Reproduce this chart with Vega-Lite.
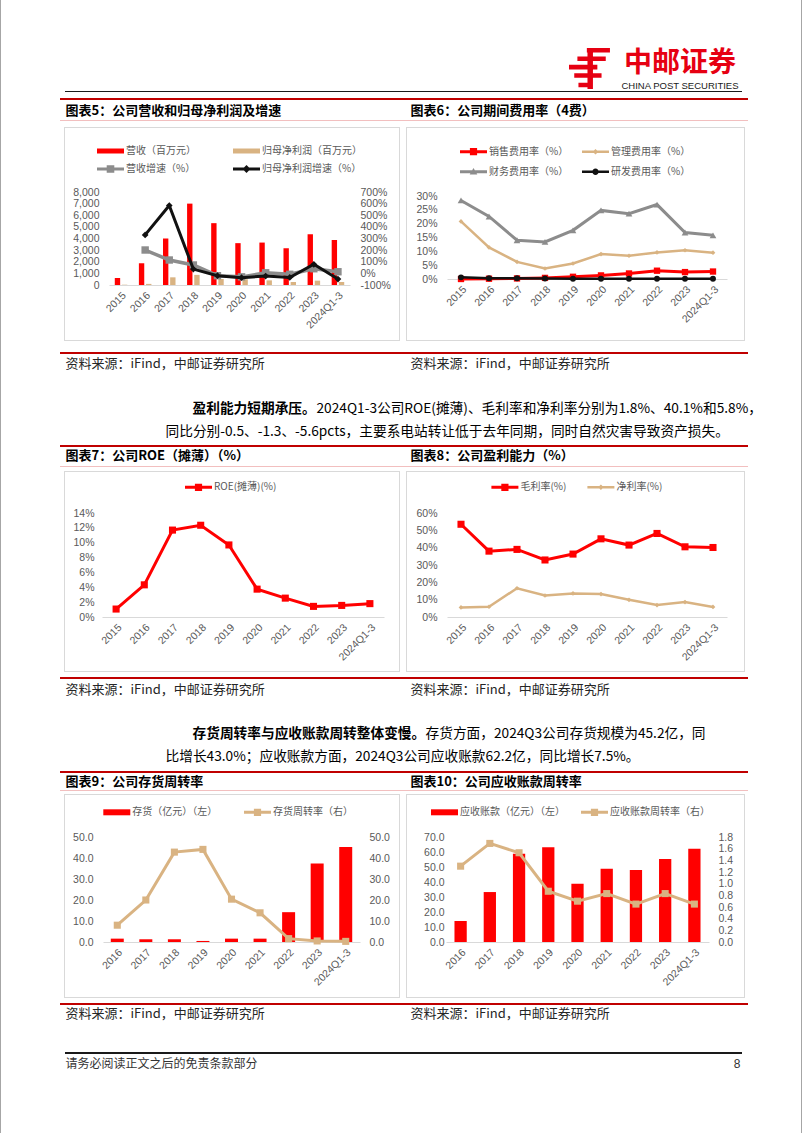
{
"$schema": "https://vega.github.io/schema/vega-lite/v6.json",
"padding": 0,
"background": "#FFFFFF",
"spacing": 0,
"bounds": "flush",
"resolve": {"scale": {"color": "independent"}, "legend": {"color": "independent"}},
"config": {
  "view": {"stroke": null},
  "axis": {"labelFont": "Liberation Sans", "labelFontSize": 10.5, "labelColor": "#595959", "ticks": false, "tickSize": 0, "grid": false, "domain": false, "labelOverlap": false},
  "axisX": {"domain": true, "domainColor": "#D9D9D9", "domainWidth": 1, "labelAngle": -45, "labelPadding": 5},
  "legend": {"orient": "none", "direction": "horizontal", "padding": 0, "labelFont": "Noto Sans CJK SC", "labelFontSize": 10, "labelColor": "#595959", "symbolSize": 400, "symbolStrokeWidth": 0, "labelOffset": 5.5, "rowPadding": 0}
},
"datasets": {
  "empty": [],
  "c5": [
    {"c":"2015","s":"营收（百万元）","v":600},{"c":"2016","s":"营收（百万元）","v":1870},{"c":"2017","s":"营收（百万元）","v":4000},{"c":"2018","s":"营收（百万元）","v":7000},{"c":"2019","s":"营收（百万元）","v":5320},{"c":"2020","s":"营收（百万元）","v":3600},{"c":"2021","s":"营收（百万元）","v":3650},{"c":"2022","s":"营收（百万元）","v":3170},{"c":"2023","s":"营收（百万元）","v":4370},{"c":"2024Q1-3","s":"营收（百万元）","v":3880},
    {"c":"2015","s":"归母净利润（百万元）","v":25},{"c":"2016","s":"归母净利润（百万元）","v":96},{"c":"2017","s":"归母净利润（百万元）","v":660},{"c":"2018","s":"归母净利润（百万元）","v":870},{"c":"2019","s":"归母净利润（百万元）","v":520},{"c":"2020","s":"归母净利润（百万元）","v":490},{"c":"2021","s":"归母净利润（百万元）","v":400},{"c":"2022","s":"归母净利润（百万元）","v":260},{"c":"2023","s":"归母净利润（百万元）","v":375},{"c":"2024Q1-3","s":"归母净利润（百万元）","v":250},
    {"c":"2016","s":"营收增速（%）","v":201},{"c":"2017","s":"营收增速（%）","v":115},{"c":"2018","s":"营收增速（%）","v":72},{"c":"2019","s":"营收增速（%）","v":-20},{"c":"2020","s":"营收增速（%）","v":-30},{"c":"2021","s":"营收增速（%）","v":5},{"c":"2022","s":"营收增速（%）","v":-8},{"c":"2023","s":"营收增速（%）","v":40},{"c":"2024Q1-3","s":"营收增速（%）","v":14},
    {"c":"2016","s":"归母净利润增速（%）","v":331},{"c":"2017","s":"归母净利润增速（%）","v":584},{"c":"2018","s":"归母净利润增速（%）","v":37},{"c":"2019","s":"归母净利润增速（%）","v":-20},{"c":"2020","s":"归母净利润增速（%）","v":-37},{"c":"2021","s":"归母净利润增速（%）","v":-23},{"c":"2022","s":"归母净利润增速（%）","v":-35},{"c":"2023","s":"归母净利润增速（%）","v":78},{"c":"2024Q1-3","s":"归母净利润增速（%）","v":-49}
  ],
  "c6": [
    {"c":"2015","s":"财务费用率（%）","v":28.4},{"c":"2016","s":"财务费用率（%）","v":22.6},{"c":"2017","s":"财务费用率（%）","v":14.0},{"c":"2018","s":"财务费用率（%）","v":13.4},{"c":"2019","s":"财务费用率（%）","v":17.6},{"c":"2020","s":"财务费用率（%）","v":24.8},{"c":"2021","s":"财务费用率（%）","v":23.6},{"c":"2022","s":"财务费用率（%）","v":26.9},{"c":"2023","s":"财务费用率（%）","v":16.8},{"c":"2024Q1-3","s":"财务费用率（%）","v":15.8},
    {"c":"2015","s":"管理费用率（%）","v":20.8},{"c":"2016","s":"管理费用率（%）","v":11.4},{"c":"2017","s":"管理费用率（%）","v":6.2},{"c":"2018","s":"管理费用率（%）","v":3.8},{"c":"2019","s":"管理费用率（%）","v":5.6},{"c":"2020","s":"管理费用率（%）","v":9.0},{"c":"2021","s":"管理费用率（%）","v":8.4},{"c":"2022","s":"管理费用率（%）","v":9.6},{"c":"2023","s":"管理费用率（%）","v":10.4},{"c":"2024Q1-3","s":"管理费用率（%）","v":9.5},
    {"c":"2015","s":"销售费用率（%）","v":0.0},{"c":"2016","s":"销售费用率（%）","v":0.1},{"c":"2017","s":"销售费用率（%）","v":0.2},{"c":"2018","s":"销售费用率（%）","v":0.4},{"c":"2019","s":"销售费用率（%）","v":0.8},{"c":"2020","s":"销售费用率（%）","v":1.3},{"c":"2021","s":"销售费用率（%）","v":2.0},{"c":"2022","s":"销售费用率（%）","v":3.0},{"c":"2023","s":"销售费用率（%）","v":2.5},{"c":"2024Q1-3","s":"销售费用率（%）","v":2.7},
    {"c":"2015","s":"研发费用率（%）","v":0.6},{"c":"2016","s":"研发费用率（%）","v":0.3},{"c":"2017","s":"研发费用率（%）","v":0.3},{"c":"2018","s":"研发费用率（%）","v":0.2},{"c":"2019","s":"研发费用率（%）","v":0.1},{"c":"2020","s":"研发费用率（%）","v":0.1},{"c":"2021","s":"研发费用率（%）","v":0.1},{"c":"2022","s":"研发费用率（%）","v":0.1},{"c":"2023","s":"研发费用率（%）","v":0.1},{"c":"2024Q1-3","s":"研发费用率（%）","v":0.1}
  ],
  "c7": [
    {"c":"2015","s":"ROE(摊薄)(%)","v":1.07},{"c":"2016","s":"ROE(摊薄)(%)","v":4.33},{"c":"2017","s":"ROE(摊薄)(%)","v":11.7},{"c":"2018","s":"ROE(摊薄)(%)","v":12.35},{"c":"2019","s":"ROE(摊薄)(%)","v":9.7},{"c":"2020","s":"ROE(摊薄)(%)","v":3.75},{"c":"2021","s":"ROE(摊薄)(%)","v":2.54},{"c":"2022","s":"ROE(摊薄)(%)","v":1.43},{"c":"2023","s":"ROE(摊薄)(%)","v":1.56},{"c":"2024Q1-3","s":"ROE(摊薄)(%)","v":1.8}
  ],
  "c8": [
    {"c":"2015","s":"毛利率(%)","v":53.5},{"c":"2016","s":"毛利率(%)","v":38.0},{"c":"2017","s":"毛利率(%)","v":39.0},{"c":"2018","s":"毛利率(%)","v":32.9},{"c":"2019","s":"毛利率(%)","v":36.3},{"c":"2020","s":"毛利率(%)","v":45.1},{"c":"2021","s":"毛利率(%)","v":41.5},{"c":"2022","s":"毛利率(%)","v":48.2},{"c":"2023","s":"毛利率(%)","v":40.5},{"c":"2024Q1-3","s":"毛利率(%)","v":40.1},
    {"c":"2015","s":"净利率(%)","v":5.5},{"c":"2016","s":"净利率(%)","v":5.9},{"c":"2017","s":"净利率(%)","v":16.6},{"c":"2018","s":"净利率(%)","v":12.4},{"c":"2019","s":"净利率(%)","v":13.6},{"c":"2020","s":"净利率(%)","v":13.2},{"c":"2021","s":"净利率(%)","v":9.9},{"c":"2022","s":"净利率(%)","v":6.9},{"c":"2023","s":"净利率(%)","v":8.6},{"c":"2024Q1-3","s":"净利率(%)","v":5.8}
  ],
  "c9": [
    {"c":"2016","s":"存货（亿元）（左）","v":1.6},{"c":"2017","s":"存货（亿元）（左）","v":1.3},{"c":"2018","s":"存货（亿元）（左）","v":1.3},{"c":"2019","s":"存货（亿元）（左）","v":0.5},{"c":"2020","s":"存货（亿元）（左）","v":1.6},{"c":"2021","s":"存货（亿元）（左）","v":1.6},{"c":"2022","s":"存货（亿元）（左）","v":14.2},{"c":"2023","s":"存货（亿元）（左）","v":37.4},{"c":"2024Q1-3","s":"存货（亿元）（左）","v":45.2},
    {"c":"2016","s":"存货周转率（右）","v":8.0},{"c":"2017","s":"存货周转率（右）","v":20.0},{"c":"2018","s":"存货周转率（右）","v":42.8},{"c":"2019","s":"存货周转率（右）","v":44.1},{"c":"2020","s":"存货周转率（右）","v":20.4},{"c":"2021","s":"存货周转率（右）","v":13.9},{"c":"2022","s":"存货周转率（右）","v":1.6},{"c":"2023","s":"存货周转率（右）","v":0.5},{"c":"2024Q1-3","s":"存货周转率（右）","v":0.3}
  ],
  "c10": [
    {"c":"2016","s":"应收账款（亿元）（左）","v":14.0},{"c":"2017","s":"应收账款（亿元）（左）","v":33.3},{"c":"2018","s":"应收账款（亿元）（左）","v":58.9},{"c":"2019","s":"应收账款（亿元）（左）","v":63.1},{"c":"2020","s":"应收账款（亿元）（左）","v":38.9},{"c":"2021","s":"应收账款（亿元）（左）","v":48.9},{"c":"2022","s":"应收账款（亿元）（左）","v":48.0},{"c":"2023","s":"应收账款（亿元）（左）","v":55.3},{"c":"2024Q1-3","s":"应收账款（亿元）（左）","v":62.2},
    {"c":"2016","s":"应收账款周转率（右）","v":1.30},{"c":"2017","s":"应收账款周转率（右）","v":1.69},{"c":"2018","s":"应收账款周转率（右）","v":1.53},{"c":"2019","s":"应收账款周转率（右）","v":0.87},{"c":"2020","s":"应收账款周转率（右）","v":0.70},{"c":"2021","s":"应收账款周转率（右）","v":0.83},{"c":"2022","s":"应收账款周转率（右）","v":0.65},{"c":"2023","s":"应收账款周转率（右）","v":0.83},{"c":"2024Q1-3","s":"应收账款周转率（右）","v":0.65}
  ]
},
"hconcat": [
  {"width": 1, "height": 1133, "data": {"name": "empty"}, "mark": "point", "view": {"fill": "#A6A6A6", "stroke": null}},
  {"width": 59, "height": 1, "data": {"name": "empty"}, "mark": "point"},
  {"spacing": 0, "bounds": "flush", "vconcat": [
    {"width": 1, "height": 98, "data": {"name": "empty"}, "mark": "point"},
    {"width": 688, "height": 2, "data": {"name": "empty"}, "mark": "point", "view": {"fill": "#C00000", "stroke": null}},
    {"width": 1, "height": 20, "data": {"name": "empty"}, "mark": "point"},
    {"width": 688, "height": 1, "data": {"name": "empty"}, "mark": "point", "view": {"fill": "#F2BFBF", "stroke": null}},
    {"width": 1, "height": 231, "data": {"name": "empty"}, "mark": "point"},
    {"width": 688, "height": 2, "data": {"name": "empty"}, "mark": "point", "view": {"fill": "#C00000", "stroke": null}},
    {"width": 1, "height": 91, "data": {"name": "empty"}, "mark": "point"},
    {"width": 688, "height": 2, "data": {"name": "empty"}, "mark": "point", "view": {"fill": "#C00000", "stroke": null}},
    {"width": 1, "height": 19, "data": {"name": "empty"}, "mark": "point"},
    {"width": 688, "height": 1, "data": {"name": "empty"}, "mark": "point", "view": {"fill": "#F2BFBF", "stroke": null}},
    {"width": 1, "height": 210, "data": {"name": "empty"}, "mark": "point"},
    {"width": 688, "height": 2, "data": {"name": "empty"}, "mark": "point", "view": {"fill": "#C00000", "stroke": null}},
    {"width": 1, "height": 92, "data": {"name": "empty"}, "mark": "point"},
    {"width": 688, "height": 2, "data": {"name": "empty"}, "mark": "point", "view": {"fill": "#C00000", "stroke": null}},
    {"width": 1, "height": 17, "data": {"name": "empty"}, "mark": "point"},
    {"width": 688, "height": 1, "data": {"name": "empty"}, "mark": "point", "view": {"fill": "#F2BFBF", "stroke": null}},
    {"width": 1, "height": 212, "data": {"name": "empty"}, "mark": "point"},
    {"width": 688, "height": 2, "data": {"name": "empty"}, "mark": "point", "view": {"fill": "#C00000", "stroke": null}}
  ]},
  {"width": 4, "height": 1, "data": {"name": "empty"}, "mark": "point"},
  {"spacing": 0, "bounds": "flush", "vconcat": [
    {"width": 1, "height": 127, "data": {"name": "empty"}, "mark": "point"},
    {"width": 336, "height": 1, "data": {"name": "empty"}, "mark": "point", "view": {"fill": "#D9D9D9", "stroke": null}},
    {"width": 1, "height": 212, "data": {"name": "empty"}, "mark": "point", "view": {"fill": "#D9D9D9", "stroke": null}},
    {"width": 336, "height": 1, "data": {"name": "empty"}, "mark": "point", "view": {"fill": "#D9D9D9", "stroke": null}},
    {"width": 1, "height": 130, "data": {"name": "empty"}, "mark": "point"},
    {"width": 336, "height": 1, "data": {"name": "empty"}, "mark": "point", "view": {"fill": "#D9D9D9", "stroke": null}},
    {"width": 1, "height": 199, "data": {"name": "empty"}, "mark": "point", "view": {"fill": "#D9D9D9", "stroke": null}},
    {"width": 336, "height": 1, "data": {"name": "empty"}, "mark": "point", "view": {"fill": "#D9D9D9", "stroke": null}},
    {"width": 1, "height": 122, "data": {"name": "empty"}, "mark": "point"},
    {"width": 336, "height": 1, "data": {"name": "empty"}, "mark": "point", "view": {"fill": "#D9D9D9", "stroke": null}},
    {"width": 1, "height": 202, "data": {"name": "empty"}, "mark": "point", "view": {"fill": "#D9D9D9", "stroke": null}},
    {"width": 336, "height": 1, "data": {"name": "empty"}, "mark": "point", "view": {"fill": "#D9D9D9", "stroke": null}}
  ]},
  {"width": 1, "height": 1, "data": {"name": "empty"}, "mark": "point"},
  {"spacing": 0, "bounds": "flush", "vconcat": [
    {"width": 1, "height": 91, "data": {"name": "empty"}, "mark": "point"},
    {"width": 677, "height": 1, "data": {"name": "empty"}, "mark": "point", "view": {"fill": "#1A1A1A", "stroke": null}},
    {"width": 1, "height": 18, "data": {"name": "empty"}, "mark": "point"},
    {"width": 1, "height": 2, "data": {"values": [{"t": "图表5：公司营收和归母净利润及增速"}]}, "mark": {"type": "text", "align": "left", "baseline": "middle", "font": "Noto Sans CJK SC", "fontSize": 13, "fontWeight": "bold", "color": "#000000"}, "encoding": {"text": {"field": "t", "type": "nominal"}}},
    {"width": 1, "height": 251, "data": {"name": "empty"}, "mark": "point"},
    {"width": 1, "height": 2, "data": {"values": [{"t": "资料来源：iFind，中邮证券研究所"}]}, "mark": {"type": "text", "align": "left", "baseline": "middle", "font": "Noto Sans CJK SC", "fontSize": 13, "color": "#262626"}, "encoding": {"text": {"field": "t", "type": "nominal"}}},
    {"width": 1, "height": 90, "data": {"name": "empty"}, "mark": "point"},
    {"width": 1, "height": 2, "data": {"values": [{"t": "图表7：公司ROE（摊薄）（%）"}]}, "mark": {"type": "text", "align": "left", "baseline": "middle", "font": "Noto Sans CJK SC", "fontSize": 13, "fontWeight": "bold", "color": "#000000"}, "encoding": {"text": {"field": "t", "type": "nominal"}}},
    {"width": 1, "height": 232, "data": {"name": "empty"}, "mark": "point"},
    {"width": 1, "height": 2, "data": {"values": [{"t": "资料来源：iFind，中邮证券研究所"}]}, "mark": {"type": "text", "align": "left", "baseline": "middle", "font": "Noto Sans CJK SC", "fontSize": 13, "color": "#262626"}, "encoding": {"text": {"field": "t", "type": "nominal"}}},
    {"width": 1, "height": 90, "data": {"name": "empty"}, "mark": "point"},
    {"width": 1, "height": 2, "data": {"values": [{"t": "图表9：公司存货周转率"}]}, "mark": {"type": "text", "align": "left", "baseline": "middle", "font": "Noto Sans CJK SC", "fontSize": 13, "fontWeight": "bold", "color": "#000000"}, "encoding": {"text": {"field": "t", "type": "nominal"}}},
    {"width": 1, "height": 230, "data": {"name": "empty"}, "mark": "point"},
    {"width": 1, "height": 2, "data": {"values": [{"t": "资料来源：iFind，中邮证券研究所"}]}, "mark": {"type": "text", "align": "left", "baseline": "middle", "font": "Noto Sans CJK SC", "fontSize": 13, "color": "#262626"}, "encoding": {"text": {"field": "t", "type": "nominal"}}},
    {"width": 1, "height": 37, "data": {"name": "empty"}, "mark": "point"},
    {"width": 677, "height": 2, "data": {"name": "empty"}, "mark": "point", "view": {"fill": "#1A1A1A", "stroke": null}},
    {"width": 1, "height": 9, "data": {"name": "empty"}, "mark": "point"},
    {"width": 1, "height": 2, "data": {"values": [{"t": "请务必阅读正文之后的免责条款部分"}]}, "mark": {"type": "text", "align": "left", "baseline": "middle", "font": "Noto Sans CJK SC", "fontSize": 12, "color": "#333333"}, "encoding": {"text": {"field": "t", "type": "nominal"}}}
  ]},
  {"width": 37, "height": 1, "data": {"name": "empty"}, "mark": "point"},
  {"spacing": 0, "bounds": "flush", "resolve": {"scale": {"color": "independent"}, "legend": {"color": "independent"}}, "vconcat": [
    {"width": 1, "height": 513, "data": {"name": "empty"}, "mark": "point"},
    {
      "width": 282, "height": 104,
      "data": {"name": "c7"},
      "mark": {"type": "line", "strokeWidth": 3, "point": {"shape": "square", "size": 50, "filled": true}},
      "encoding": {
        "x": {"field": "c", "type": "ordinal", "sort": null, "title": null},
        "y": {"field": "v", "type": "quantitative", "title": null, "scale": {"domain": [0, 14], "nice": false}, "axis": {"values": [0,2,4,6,8,10,12,14], "labelExpr": "datum.value + '%'", "labelPadding": 8}},
        "color": {"field": "s", "type": "nominal", "scale": {"domain": ["ROE(摊薄)(%)"], "range": ["#FF0000"]},
          "legend": {"title": null, "orient": "none", "legendX": 86.5, "legendY": -35.7,
            "encode": {"symbols": {"update": {
              "shape": {"value": "M-1.35,-0.15H1.35V0.15H-1.35ZM-0.36,-0.36H0.36V0.36H-0.36Z"},
              "fill": {"value": "#FF0000"},
              "strokeWidth": {"value": 0},
              "opacity": {"value": 1}
            }}}
          }
        }
      }
    }
  ]},
  {"width": 1, "height": 1, "data": {"name": "empty"}, "mark": "point"},
  {"spacing": 0, "bounds": "flush", "resolve": {"scale": {"color": "independent"}, "legend": {"color": "independent"}}, "vconcat": [
    {"width": 1, "height": 837, "data": {"name": "empty"}, "mark": "point"},
    {
      "width": 257, "height": 105,
      "data": {"name": "c9"},
      "encoding": {
        "x": {"field": "c", "type": "ordinal", "sort": null, "title": null, "scale": {"paddingInner": 0.545, "paddingOuter": 0.2725}},
        "color": {"field": "s", "type": "nominal", "scale": {"domain": ["存货（亿元）（左）","存货周转率（右）"], "range": ["#FF0000","#D9B382"]},
          "legend": {"title": null, "orient": "none", "legendX": 3.8, "legendY": -34.7, "columns": 2, "columnPadding": 25.7,
            "encode": {"symbols": {"update": {
              "shape": [{"test": "datum.value === '存货（亿元）（左）'", "value": "M-1.35,-0.3H1.35V0.3H-1.35Z"}, {"value": "M-1.35,-0.15H1.35V0.15H-1.35ZM-0.36,-0.36H0.36V0.36H-0.36Z"}],
              "fill": [{"test": "datum.value === '存货（亿元）（左）'", "value": "#FF0000"}, {"value": "#D9B382"}],
              "strokeWidth": {"value": 0},
              "opacity": {"value": 1}
            }}}
          }
        }
      },
      "layer": [
        {"transform": [{"filter": "datum.s === '存货（亿元）（左）'"}], "mark": {"type": "bar"},
         "encoding": {"y": {"field": "v", "type": "quantitative", "title": null, "scale": {"domain": [0, 50], "nice": false}, "axis": {"orient": "left", "values": [0,10,20,30,40,50], "format": ".1f", "labelPadding": 10}}}},
        {"transform": [{"filter": "datum.s === '存货周转率（右）'"}], "mark": {"type": "line", "strokeWidth": 3, "point": {"shape": "square", "size": 50, "filled": true}},
         "encoding": {"y": {"field": "v", "type": "quantitative", "title": null, "scale": {"domain": [0, 50], "nice": false}, "axis": {"orient": "right", "values": [0,10,20,30,40,50], "format": ".1f", "labelPadding": 9}}}}
      ],
      "resolve": {"scale": {"y": "independent"}}
    }
  ]},
  {"width": 6, "height": 1, "data": {"name": "empty"}, "mark": "point"},
  {"spacing": 0, "bounds": "flush", "resolve": {"scale": {"color": "independent"}, "legend": {"color": "independent"}}, "vconcat": [
    {"width": 1, "height": 192, "data": {"name": "empty"}, "mark": "point"},
    {
      "width": 241, "height": 93,
      "data": {"name": "c5"},
      "encoding": {
        "x": {"field": "c", "type": "ordinal", "sort": null, "title": null, "scale": {"paddingInner": 0.48, "paddingOuter": 0.24}},
        "color": {"field": "s", "type": "nominal",
          "scale": {"domain": ["营收（百万元）","归母净利润（百万元）","营收增速（%）","归母净利润增速（%）"], "range": ["#FF0000","#D9B382","#8C8C8C","#111111"]},
          "legend": {"title": null, "orient": "none", "legendX": -8.5, "legendY": -51, "columns": 2, "columnPadding": 36, "rowPadding": 3,
            "encode": {"symbols": {"update": {
              "shape": [
                {"test": "datum.value === '营收（百万元）' || datum.value === '归母净利润（百万元）'", "value": "M-1.35,-0.25H1.35V0.25H-1.35Z"},
                {"test": "datum.value === '营收增速（%）'", "value": "M-1.35,-0.16H1.35V0.16H-1.35ZM-0.38,-0.38H0.38V0.38H-0.38Z"},
                {"value": "M-1.35,-0.14H1.35V0.14H-1.35ZM0,-0.4L0.4,0L0,0.4L-0.4,0Z"}
              ],
              "fill": [
                {"test": "datum.value === '营收（百万元）'", "value": "#FF0000"},
                {"test": "datum.value === '归母净利润（百万元）'", "value": "#D9B382"},
                {"test": "datum.value === '营收增速（%）'", "value": "#8C8C8C"},
                {"value": "#111111"}
              ],
              "strokeWidth": {"value": 0},
              "opacity": {"value": 1}
            }}}
          }
        }
      },
      "layer": [
        {"transform": [{"filter": "datum.s === '营收（百万元）' || datum.s === '归母净利润（百万元）'"}],
         "mark": {"type": "bar"},
         "encoding": {
           "xOffset": {"field": "s", "type": "nominal", "sort": ["营收（百万元）","归母净利润（百万元）"], "scale": {"paddingInner": 0.25, "paddingOuter": 0}},
           "y": {"field": "v", "type": "quantitative", "title": null, "scale": {"domain": [0, 8000], "nice": false}, "axis": {"orient": "left", "values": [0,1000,2000,3000,4000,5000,6000,7000,8000], "format": ",.0f", "labelPadding": 10}}
         }},
        {"encoding": {
           "y": {"field": "v", "type": "quantitative", "title": null, "scale": {"domain": [-100, 700], "nice": false, "zero": false}, "axis": {"orient": "right", "values": [-100,0,100,200,300,400,500,600,700], "labelExpr": "datum.value + '%'", "labelPadding": 10}}
         },
         "layer": [
           {"transform": [{"filter": "datum.s === '营收增速（%）'"}], "mark": {"type": "line", "strokeWidth": 3.5, "point": {"shape": "square", "size": 55, "filled": true}}},
           {"transform": [{"filter": "datum.s === '归母净利润增速（%）'"}], "mark": {"type": "line", "strokeWidth": 3, "point": {"shape": "diamond", "size": 45, "filled": true}}}
         ]}
      ],
      "resolve": {"scale": {"y": "independent"}}
    }
  ]},
  {"width": 56, "height": 1, "data": {"name": "empty"}, "mark": "point"},
  {"spacing": 0, "bounds": "flush", "vconcat": [
    {"width": 1, "height": 431, "data": {"name": "empty"}, "mark": "point"},
    {"width": 1, "height": 2, "data": {"values": [{"t": "同比分别-0.5、-1.3、-5.6pcts，主要系电站转让低于去年同期，同时自然灾害导致资产损失。"}]}, "mark": {"type": "text", "align": "left", "baseline": "middle", "font": "Noto Sans CJK SC", "fontSize": 13.7, "color": "#000000"}, "encoding": {"text": {"field": "t", "type": "nominal"}}},
    {"width": 1, "height": 323, "data": {"name": "empty"}, "mark": "point"},
    {"width": 1, "height": 2, "data": {"values": [{"t": "比增长43.0%；应收账款方面，2024Q3公司应收账款62.2亿，同比增长7.5%。"}]}, "mark": {"type": "text", "align": "left", "baseline": "middle", "font": "Noto Sans CJK SC", "fontSize": 13.7, "color": "#000000"}, "encoding": {"text": {"field": "t", "type": "nominal"}}}
  ]},
  {"width": 27, "height": 1, "data": {"name": "empty"}, "mark": "point"},
  {"spacing": 0, "bounds": "flush", "vconcat": [
    {"width": 1, "height": 408, "data": {"name": "empty"}, "mark": "point"},
    {"width": 1, "height": 2, "data": {"values": [{"t": "盈利能力短期承压。"}]}, "mark": {"type": "text", "align": "left", "baseline": "middle", "font": "Noto Sans CJK SC", "fontSize": 13.7, "fontWeight": "bold", "color": "#000000"}, "encoding": {"text": {"field": "t", "type": "nominal"}}},
    {"width": 1, "height": 323, "data": {"name": "empty"}, "mark": "point"},
    {"width": 1, "height": 2, "data": {"values": [{"t": "存货周转率与应收账款周转整体变慢。"}]}, "mark": {"type": "text", "align": "left", "baseline": "middle", "font": "Noto Sans CJK SC", "fontSize": 13.7, "fontWeight": "bold", "color": "#000000"}, "encoding": {"text": {"field": "t", "type": "nominal"}}}
  ]},
  {"width": 124, "height": 1, "data": {"name": "empty"}, "mark": "point"},
  {"spacing": 0, "bounds": "flush", "vconcat": [
    {"width": 1, "height": 408, "data": {"name": "empty"}, "mark": "point"},
    {"width": 1, "height": 2, "data": {"values": [{"t": "2024Q1-3公司ROE(摊薄)、毛利率和净利率分别为1.8%、40.1%和5.8%，"}]}, "mark": {"type": "text", "align": "left", "baseline": "middle", "font": "Noto Sans CJK SC", "fontSize": 13.7, "color": "#000000"}, "encoding": {"text": {"field": "t", "type": "nominal"}}}
  ]},
  {"width": 83, "height": 1, "data": {"name": "empty"}, "mark": "point"},
  {"spacing": 0, "bounds": "flush", "vconcat": [
    {"width": 1, "height": 128, "data": {"name": "empty"}, "mark": "point"},
    {"width": 1, "height": 212, "data": {"name": "empty"}, "mark": "point", "view": {"fill": "#D9D9D9", "stroke": null}},
    {"width": 1, "height": 132, "data": {"name": "empty"}, "mark": "point"},
    {"width": 1, "height": 199, "data": {"name": "empty"}, "mark": "point", "view": {"fill": "#D9D9D9", "stroke": null}},
    {"width": 1, "height": 124, "data": {"name": "empty"}, "mark": "point"},
    {"width": 1, "height": 202, "data": {"name": "empty"}, "mark": "point", "view": {"fill": "#D9D9D9", "stroke": null}}
  ]},
  {"width": 7, "height": 1, "data": {"name": "empty"}, "mark": "point"},
  {"spacing": 0, "bounds": "flush", "vconcat": [
    {"width": 1, "height": 127, "data": {"name": "empty"}, "mark": "point"},
    {"width": 339, "height": 1, "data": {"name": "empty"}, "mark": "point", "view": {"fill": "#D9D9D9", "stroke": null}},
    {"width": 1, "height": 212, "data": {"name": "empty"}, "mark": "point", "view": {"fill": "#D9D9D9", "stroke": null}},
    {"width": 339, "height": 1, "data": {"name": "empty"}, "mark": "point", "view": {"fill": "#D9D9D9", "stroke": null}},
    {"width": 1, "height": 130, "data": {"name": "empty"}, "mark": "point"},
    {"width": 339, "height": 1, "data": {"name": "empty"}, "mark": "point", "view": {"fill": "#D9D9D9", "stroke": null}},
    {"width": 1, "height": 199, "data": {"name": "empty"}, "mark": "point", "view": {"fill": "#D9D9D9", "stroke": null}},
    {"width": 339, "height": 1, "data": {"name": "empty"}, "mark": "point", "view": {"fill": "#D9D9D9", "stroke": null}},
    {"width": 1, "height": 122, "data": {"name": "empty"}, "mark": "point"},
    {"width": 339, "height": 1, "data": {"name": "empty"}, "mark": "point", "view": {"fill": "#D9D9D9", "stroke": null}},
    {"width": 1, "height": 202, "data": {"name": "empty"}, "mark": "point", "view": {"fill": "#D9D9D9", "stroke": null}},
    {"width": 339, "height": 1, "data": {"name": "empty"}, "mark": "point", "view": {"fill": "#D9D9D9", "stroke": null}}
  ]},
  {"width": 4, "height": 1, "data": {"name": "empty"}, "mark": "point"},
  {"spacing": 0, "bounds": "flush", "vconcat": [
    {"width": 1, "height": 110, "data": {"name": "empty"}, "mark": "point"},
    {"width": 1, "height": 2, "data": {"values": [{"t": "图表6：公司期间费用率（4费）"}]}, "mark": {"type": "text", "align": "left", "baseline": "middle", "font": "Noto Sans CJK SC", "fontSize": 13, "fontWeight": "bold", "color": "#000000"}, "encoding": {"text": {"field": "t", "type": "nominal"}}},
    {"width": 1, "height": 251, "data": {"name": "empty"}, "mark": "point"},
    {"width": 1, "height": 2, "data": {"values": [{"t": "资料来源：iFind，中邮证券研究所"}]}, "mark": {"type": "text", "align": "left", "baseline": "middle", "font": "Noto Sans CJK SC", "fontSize": 13, "color": "#262626"}, "encoding": {"text": {"field": "t", "type": "nominal"}}},
    {"width": 1, "height": 90, "data": {"name": "empty"}, "mark": "point"},
    {"width": 1, "height": 2, "data": {"values": [{"t": "图表8：公司盈利能力（%）"}]}, "mark": {"type": "text", "align": "left", "baseline": "middle", "font": "Noto Sans CJK SC", "fontSize": 13, "fontWeight": "bold", "color": "#000000"}, "encoding": {"text": {"field": "t", "type": "nominal"}}},
    {"width": 1, "height": 232, "data": {"name": "empty"}, "mark": "point"},
    {"width": 1, "height": 2, "data": {"values": [{"t": "资料来源：iFind，中邮证券研究所"}]}, "mark": {"type": "text", "align": "left", "baseline": "middle", "font": "Noto Sans CJK SC", "fontSize": 13, "color": "#262626"}, "encoding": {"text": {"field": "t", "type": "nominal"}}},
    {"width": 1, "height": 90, "data": {"name": "empty"}, "mark": "point"},
    {"width": 1, "height": 2, "data": {"values": [{"t": "图表10：公司应收账款周转率"}]}, "mark": {"type": "text", "align": "left", "baseline": "middle", "font": "Noto Sans CJK SC", "fontSize": 13, "fontWeight": "bold", "color": "#000000"}, "encoding": {"text": {"field": "t", "type": "nominal"}}},
    {"width": 1, "height": 230, "data": {"name": "empty"}, "mark": "point"},
    {"width": 1, "height": 2, "data": {"values": [{"t": "资料来源：iFind，中邮证券研究所"}]}, "mark": {"type": "text", "align": "left", "baseline": "middle", "font": "Noto Sans CJK SC", "fontSize": 13, "color": "#262626"}, "encoding": {"text": {"field": "t", "type": "nominal"}}}
  ]},
  {"width": 15, "height": 1, "data": {"name": "empty"}, "mark": "point"},
  {"spacing": 0, "bounds": "flush", "vconcat": [
    {"width": 1, "height": 733, "data": {"name": "empty"}, "mark": "point"},
    {"width": 1, "height": 2, "data": {"values": [{"t": "存货方面，2024Q3公司存货规模为45.2亿，同"}]}, "mark": {"type": "text", "align": "left", "baseline": "middle", "font": "Noto Sans CJK SC", "fontSize": 13.7, "color": "#000000"}, "encoding": {"text": {"field": "t", "type": "nominal"}}}
  ]},
  {"width": 21, "height": 1, "data": {"name": "empty"}, "mark": "point"},
  {"spacing": 0, "bounds": "flush", "resolve": {"scale": {"color": "independent"}, "legend": {"color": "independent"}}, "vconcat": [
    {"width": 1, "height": 837, "data": {"name": "empty"}, "mark": "point"},
    {
      "width": 263, "height": 105,
      "data": {"name": "c10"},
      "encoding": {
        "x": {"field": "c", "type": "ordinal", "sort": null, "title": null, "scale": {"paddingInner": 0.58, "paddingOuter": 0.29}},
        "color": {"field": "s", "type": "nominal", "scale": {"domain": ["应收账款（亿元）（左）","应收账款周转率（右）"], "range": ["#FF0000","#D9B382"]},
          "legend": {"title": null, "orient": "none", "legendX": -11.5, "legendY": -34.7, "columns": 2, "columnPadding": 15,
            "encode": {"symbols": {"update": {
              "shape": [{"test": "datum.value === '应收账款（亿元）（左）'", "value": "M-1.35,-0.3H1.35V0.3H-1.35Z"}, {"value": "M-1.35,-0.15H1.35V0.15H-1.35ZM-0.36,-0.36H0.36V0.36H-0.36Z"}],
              "fill": [{"test": "datum.value === '应收账款（亿元）（左）'", "value": "#FF0000"}, {"value": "#D9B382"}],
              "strokeWidth": {"value": 0},
              "opacity": {"value": 1}
            }}}
          }
        }
      },
      "layer": [
        {"transform": [{"filter": "datum.s === '应收账款（亿元）（左）'"}], "mark": {"type": "bar"},
         "encoding": {"y": {"field": "v", "type": "quantitative", "title": null, "scale": {"domain": [0, 70], "nice": false}, "axis": {"orient": "left", "values": [0,10,20,30,40,50,60,70], "format": ".1f", "labelPadding": 2}}}},
        {"transform": [{"filter": "datum.s === '应收账款周转率（右）'"}], "mark": {"type": "line", "strokeWidth": 3, "point": {"shape": "square", "size": 50, "filled": true}},
         "encoding": {"y": {"field": "v", "type": "quantitative", "title": null, "scale": {"domain": [0, 1.8], "nice": false}, "axis": {"orient": "right", "values": [0,0.2,0.4,0.6,0.8,1,1.2,1.4,1.6,1.8], "format": ".1f", "labelPadding": 9}}}}
      ],
      "resolve": {"scale": {"y": "independent"}}
    }
  ]},
  {"width": 1, "height": 1, "data": {"name": "empty"}, "mark": "point"},
  {"spacing": 0, "bounds": "flush", "resolve": {"scale": {"color": "independent"}, "legend": {"color": "independent"}}, "vconcat": [
    {"width": 1, "height": 196, "data": {"name": "empty"}, "mark": "point"},
    {
      "width": 280, "height": 83,
      "data": {"name": "c6"},
      "encoding": {
        "x": {"field": "c", "type": "ordinal", "sort": null, "title": null},
        "y": {"field": "v", "type": "quantitative", "title": null, "scale": {"domain": [0, 30], "nice": false}, "axis": {"values": [0,5,10,15,20,25,30], "labelExpr": "datum.value + '%'", "labelPadding": 10}},
        "color": {"field": "s", "type": "nominal",
          "scale": {"domain": ["销售费用率（%）","管理费用率（%）","财务费用率（%）","研发费用率（%）"], "range": ["#FF0000","#D9B382","#8C8C8C","#111111"]},
          "legend": {"title": null, "orient": "none", "legendX": 16.5, "legendY": -54.3, "columns": 2, "columnPadding": 13, "rowPadding": 5,
            "encode": {"symbols": {"update": {
              "shape": [
                {"test": "datum.value === '销售费用率（%）'", "value": "M-1.35,-0.15H1.35V0.15H-1.35ZM-0.36,-0.36H0.36V0.36H-0.36Z"},
                {"test": "datum.value === '管理费用率（%）'", "value": "M-1.35,-0.13H1.35V0.13H-1.35ZM0,-0.28L0.28,0L0,0.28L-0.28,0Z"},
                {"test": "datum.value === '财务费用率（%）'", "value": "M-1.35,-0.15H1.35V0.15H-1.35ZM0,-0.38L0.38,0.28L-0.38,0.28Z"},
                {"value": "M-1.35,-0.13H1.35V0.13H-1.35ZM-0.32,0A0.32,0.32,0,1,1,0.32,0A0.32,0.32,0,1,1,-0.32,0Z"}
              ],
              "fill": [
                {"test": "datum.value === '销售费用率（%）'", "value": "#FF0000"},
                {"test": "datum.value === '管理费用率（%）'", "value": "#D9B382"},
                {"test": "datum.value === '财务费用率（%）'", "value": "#8C8C8C"},
                {"value": "#111111"}
              ],
              "strokeWidth": {"value": 0},
              "opacity": {"value": 1}
            }}}
          }
        }
      },
      "layer": [
        {"transform": [{"filter": "datum.s === '财务费用率（%）'"}], "mark": {"type": "line", "strokeWidth": 3, "point": {"shape": "triangle-up", "size": 45, "filled": true}}},
        {"transform": [{"filter": "datum.s === '管理费用率（%）'"}], "mark": {"type": "line", "strokeWidth": 2.5, "point": {"shape": "diamond", "size": 22, "filled": true}}},
        {"transform": [{"filter": "datum.s === '销售费用率（%）'"}], "mark": {"type": "line", "strokeWidth": 3, "point": {"shape": "square", "size": 40, "filled": true}}},
        {"transform": [{"filter": "datum.s === '研发费用率（%）'"}], "mark": {"type": "line", "strokeWidth": 2.5, "point": {"shape": "circle", "size": 35, "filled": true}}}
      ]
    },
    {"width": 1, "height": 234, "data": {"name": "empty"}, "mark": "point"},
    {
      "width": 280, "height": 104,
      "data": {"name": "c8"},
      "encoding": {
        "x": {"field": "c", "type": "ordinal", "sort": null, "title": null},
        "y": {"field": "v", "type": "quantitative", "title": null, "scale": {"domain": [0, 60], "nice": false}, "axis": {"values": [0,10,20,30,40,50,60], "labelExpr": "datum.value + '%'", "labelPadding": 10}},
        "color": {"field": "s", "type": "nominal", "scale": {"domain": ["毛利率(%)","净利率(%)"], "range": ["#FF0000","#D9B382"]},
          "legend": {"title": null, "orient": "none", "legendX": 47.9, "legendY": -35.7, "columns": 2, "columnPadding": 20,
            "encode": {"symbols": {"update": {
              "shape": [{"test": "datum.value === '毛利率(%)'", "value": "M-1.35,-0.15H1.35V0.15H-1.35ZM-0.36,-0.36H0.36V0.36H-0.36Z"}, {"value": "M-1.35,-0.13H1.35V0.13H-1.35ZM0,-0.28L0.28,0L0,0.28L-0.28,0Z"}],
              "fill": [{"test": "datum.value === '毛利率(%)'", "value": "#FF0000"}, {"value": "#D9B382"}],
              "strokeWidth": {"value": 0},
              "opacity": {"value": 1}
            }}}
          }
        }
      },
      "layer": [
        {"transform": [{"filter": "datum.s === '净利率(%)'"}], "mark": {"type": "line", "strokeWidth": 2.5, "point": {"shape": "diamond", "size": 22, "filled": true}}},
        {"transform": [{"filter": "datum.s === '毛利率(%)'"}], "mark": {"type": "line", "strokeWidth": 3, "point": {"shape": "square", "size": 50, "filled": true}}}
      ]
    }
  ]},
  {"width": 121, "height": 1, "data": {"name": "empty"}, "mark": "point"},
  {"spacing": 0, "bounds": "flush", "vconcat": [
    {"width": 1, "height": 48, "data": {"name": "empty"}, "mark": "point"},
    {"width": 44, "height": 42, "data": {"values": [{"k": "logo"}]}, "mark": {"type": "point", "shape": "M-0.15,-1H0.95V-0.78H-0.15Z M-0.6,-0.6H0.75V-0.38H-0.6Z M-1,-0.2H0.35V0.02H-1Z M-0.75,0.2H0.55V0.42H-0.75Z M-0.12,-0.78H0.14V0.95H-0.12Z M-0.55,0.65H-0.12V0.87H-0.55Z", "size": 1764, "filled": true, "color": "#E60012", "opacity": 1, "strokeWidth": 0}}
  ]},
  {"width": 52, "height": 1, "data": {"name": "empty"}, "mark": "point"},
  {"spacing": 0, "bounds": "flush", "vconcat": [
    {"width": 1, "height": 63, "data": {"name": "empty"}, "mark": "point"},
    {"width": 120, "height": 2, "data": {"values": [{"t": "中邮证券"}]}, "mark": {"type": "text", "align": "center", "baseline": "middle", "font": "Noto Sans CJK SC", "fontSize": 28, "fontWeight": "bold", "color": "#E60012"}, "encoding": {"text": {"field": "t", "type": "nominal"}}},
    {"width": 1, "height": 20, "data": {"name": "empty"}, "mark": "point"},
    {"width": 120, "height": 2, "data": {"values": [{"t": "CHINA POST SECURITIES"}]}, "mark": {"type": "text", "align": "center", "baseline": "middle", "font": "Liberation Sans", "fontSize": 9.5, "color": "#1A1A1A"}, "encoding": {"text": {"field": "t", "type": "nominal"}}}
  ]},
  {"width": 120, "height": 1, "data": {"name": "empty"}, "mark": "point"},
  {"spacing": 0, "bounds": "flush", "vconcat": [
    {"width": 1, "height": 1063, "data": {"name": "empty"}, "mark": "point"},
    {"width": 1, "height": 2, "data": {"values": [{"t": "8"}]}, "mark": {"type": "text", "align": "right", "baseline": "middle", "font": "Liberation Sans", "fontSize": 12, "color": "#333333"}, "encoding": {"text": {"field": "t", "type": "nominal"}}}
  ]},
  {"width": 4, "height": 1, "data": {"name": "empty"}, "mark": "point"},
  {"spacing": 0, "bounds": "flush", "vconcat": [
    {"width": 1, "height": 128, "data": {"name": "empty"}, "mark": "point"},
    {"width": 1, "height": 212, "data": {"name": "empty"}, "mark": "point", "view": {"fill": "#D9D9D9", "stroke": null}},
    {"width": 1, "height": 132, "data": {"name": "empty"}, "mark": "point"},
    {"width": 1, "height": 199, "data": {"name": "empty"}, "mark": "point", "view": {"fill": "#D9D9D9", "stroke": null}},
    {"width": 1, "height": 124, "data": {"name": "empty"}, "mark": "point"},
    {"width": 1, "height": 202, "data": {"name": "empty"}, "mark": "point", "view": {"fill": "#D9D9D9", "stroke": null}}
  ]},
  {"width": 57, "height": 1, "data": {"name": "empty"}, "mark": "point"},
  {"width": 1, "height": 1133, "data": {"name": "empty"}, "mark": "point", "view": {"fill": "#A6A6A6", "stroke": null}}
]
}
